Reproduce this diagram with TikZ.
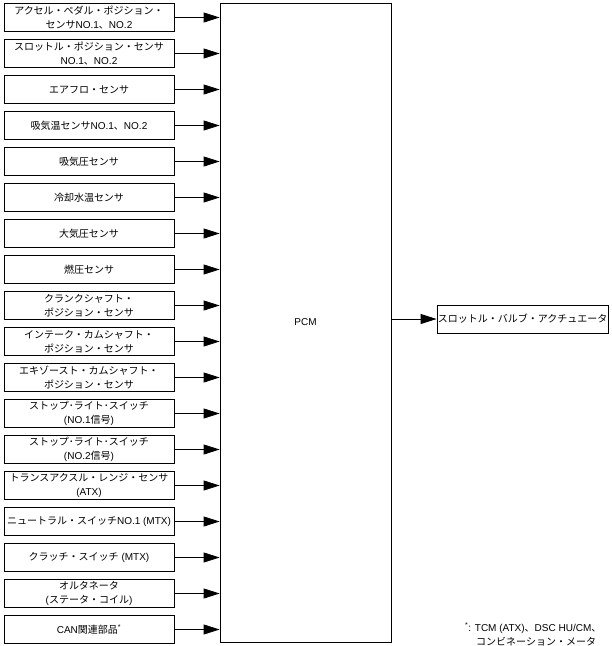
\documentclass[tikz,border=0pt]{standalone}
\usepackage{fontspec}
\setmainfont{Liberation Sans}
\newfontfamily\jp{Noto Sans CJK JP}
\newcommand\J[1]{{\jp #1}}
\usetikzlibrary{arrows.meta}
\begin{document}
\begin{tikzpicture}[x=1pt,y=1pt,
  inbox/.style={draw, line width=0.8pt, minimum width=170pt, minimum height=28pt, inner sep=0.5pt, align=center, font=\fontsize{10}{13.5}\selectfont},
  arr/.style={line width=0.8pt, -{Triangle[length=16pt,width=10pt]}},
  txt/.style={font=\fontsize{10}{13.5}\selectfont}]
\useasboundingbox (0,0) rectangle (612,-646);
\node[draw, line width=0.8pt, minimum width=171pt, minimum height=639pt, inner sep=0pt, txt] (pcm) at (305.5,-322.5) {PCM};
\node[inbox] (b1) at (89,-17.5) {\J{アクセル・ペダル・ポジション・}\\\J{センサ}NO.1\J{、}NO.2};
\node[inbox] (b2) at (89,-53.5) {\J{スロットル・ポジション・センサ}\\NO.1\J{、}NO.2};
\node[inbox] (b3) at (89,-89.5) {\J{エアフロ・センサ}};
\node[inbox] (b4) at (89,-125.5) {\J{吸気温センサ}NO.1\J{、}NO.2};
\node[inbox] (b5) at (89,-161.5) {\J{吸気圧センサ}};
\node[inbox] (b6) at (89,-197.5) {\J{冷却水温センサ}};
\node[inbox] (b7) at (89,-233.5) {\J{大気圧センサ}};
\node[inbox] (b8) at (89,-269.5) {\J{燃圧センサ}};
\node[inbox] (b9) at (89,-305.5) {\J{クランクシャフト・}\\\J{ポジション・センサ}};
\node[inbox] (b10) at (89,-341.5) {\J{インテーク・カムシャフト・}\\\J{ポジション・センサ}};
\node[inbox] (b11) at (89,-377.5) {\J{エキゾースト・カムシャフト・}\\\J{ポジション・センサ}};
\node[inbox] (b12) at (89,-413.5) {\J{ストップ･ライト･スイッチ}\\(NO.1\J{信号})};
\node[inbox] (b13) at (89,-449.5) {\J{ストップ･ライト･スイッチ}\\(NO.2\J{信号})};
\node[inbox] (b14) at (89,-485.5) {\J{トランスアクスル・レンジ・センサ}\\(ATX)};
\node[inbox] (b15) at (89,-521.5) {\J{ニュートラル・スイッチ}NO.1 (MTX)};
\node[inbox] (b16) at (89,-557.5) {\J{クラッチ・スイッチ} (MTX)};
\node[inbox] (b17) at (89,-593.5) {\J{オルタネータ}\\(\J{ステータ・コイル})};
\node[inbox] (b18) at (89,-629.5) {CAN\J{関連部品}\textsuperscript{*}};
\foreach \i in {1,...,18} \draw[arr] (b\i.east) -- (b\i.east -| pcm.west);
\node[draw, line width=0.8pt, minimum width=171pt, minimum height=28pt, inner sep=0.5pt, txt] (act) at (522.5,-319) {\J{スロットル・バルブ・アクチュエータ}};
\draw[arr] (pcm.east |- act.west) -- (act.west);
\node[txt, anchor=base west, inner sep=0pt] (fn1) at (465,-631) {\textsuperscript{*}: TCM (ATX)\J{、}DSC HU/CM\J{、}};
\node[txt, anchor=base west, inner sep=0pt] (fn2) at (476,-645) {\J{コンビネーション・メータ}};
\end{tikzpicture}
\end{document}
